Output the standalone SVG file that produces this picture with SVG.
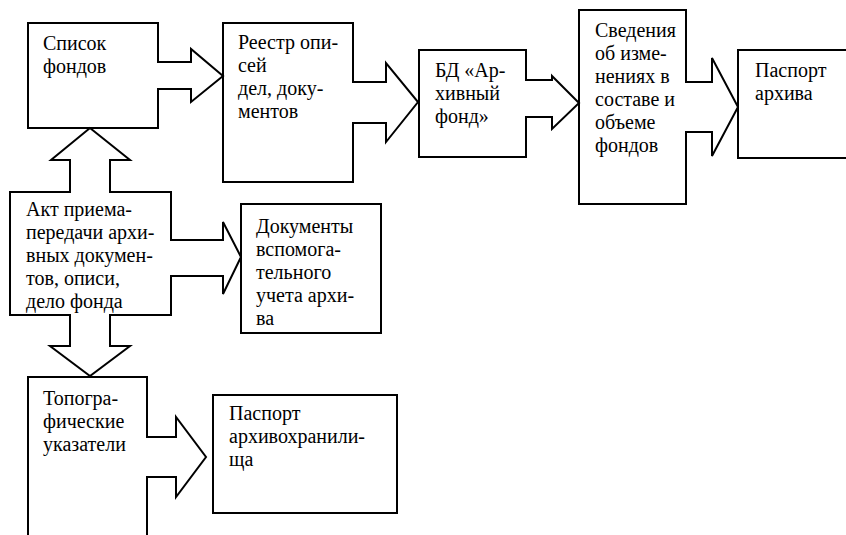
<svg xmlns="http://www.w3.org/2000/svg" width="846" height="535" viewBox="0 0 846 535">
<style>
.box{fill:#fff;stroke:#000;stroke-width:2}
.arr{fill:#fff;stroke:#000;stroke-width:2;stroke-linejoin:miter}
</style>
<rect width="846" height="535" fill="#fff"/>
<g font-family="Liberation Serif, DejaVu Serif, serif" font-size="20" fill="#000">
<g id="n-spisok"><rect class="box" x="28" y="23" width="130" height="105"/>
<text x="43" y="50">Список</text><text x="43" y="73">фондов</text></g>
<g id="n-reestr"><rect class="box" x="223" y="23" width="130" height="159"/>
<text x="238" y="49">Реестр опи-</text><text x="238" y="72">сей</text><text x="238" y="95">дел, доку-</text><text x="238" y="118">ментов</text></g>
<g id="n-bd"><rect class="box" x="419" y="50" width="107" height="107"/>
<text x="435" y="77">БД «Ар-</text><text x="435" y="100">хивный</text><text x="435" y="123">фонд»</text></g>
<g id="n-svedenia"><rect class="box" x="579" y="10" width="107" height="194"/>
<text x="595" y="37">Сведения</text><text x="595" y="60">об изме-</text><text x="595" y="83">нениях в</text><text x="595" y="106">составе и</text><text x="595" y="129">объеме</text><text x="595" y="152">фондов</text></g>
<g id="n-pasport"><rect class="box" x="738" y="50" width="112" height="108"/>
<text x="755" y="77">Паспорт</text><text x="755" y="100">архива</text></g>
<g id="n-akt"><rect class="box" x="10" y="192" width="161" height="123"/>
<text x="26" y="216">Акт приема-</text><text x="26" y="239">передачи архи-</text><text x="26" y="262">вных докумен-</text><text x="26" y="285">тов, описи,</text><text x="26" y="308">дело фонда</text></g>
<g id="n-dokumenty"><rect class="box" x="241" y="204" width="140" height="129"/>
<text x="256" y="233">Документы</text><text x="256" y="256">вспомога-</text><text x="256" y="279">тельного</text><text x="256" y="302">учета архи-</text><text x="256" y="325">ва</text></g>
<g id="n-topo"><rect class="box" x="28" y="377" width="119" height="170"/>
<text x="43" y="405">Топогра-</text><text x="43" y="428">фические</text><text x="43" y="451">указатели</text></g>
<g id="n-pasport-hr"><rect class="box" x="213" y="395" width="184" height="118"/>
<text x="229" y="420">Паспорт</text><text x="229" y="443">архивохранили-</text><text x="229" y="466">ща</text></g>
</g>
<g id="connectors">
<path class="arr" d="M157,62 H191 V49 L223,76 L191,102 V89 H157"/>
<path class="arr" d="M352,82 H386 V63 L418,102 L386,142 V123 H352"/>
<path class="arr" d="M525,80 H552 V76 L579,103 L552,129 V117 H525"/>
<path class="arr" d="M685,82 H712 V58 L738,107 L712,156 V132 H685"/>
<path class="arr" d="M170,240 H223 V222 L241,257 L223,294 V276 H170"/>
<path class="arr" d="M146,437 H176 V417 L206,457 L176,497 V477 H146"/>
<path class="arr" d="M70,193 V160 H51 L90,128 L130,160 H110 V193"/>
<path class="arr" d="M70,314 V346 H50 L90,376 L130,346 H110 V314"/>
</g>
</svg>
